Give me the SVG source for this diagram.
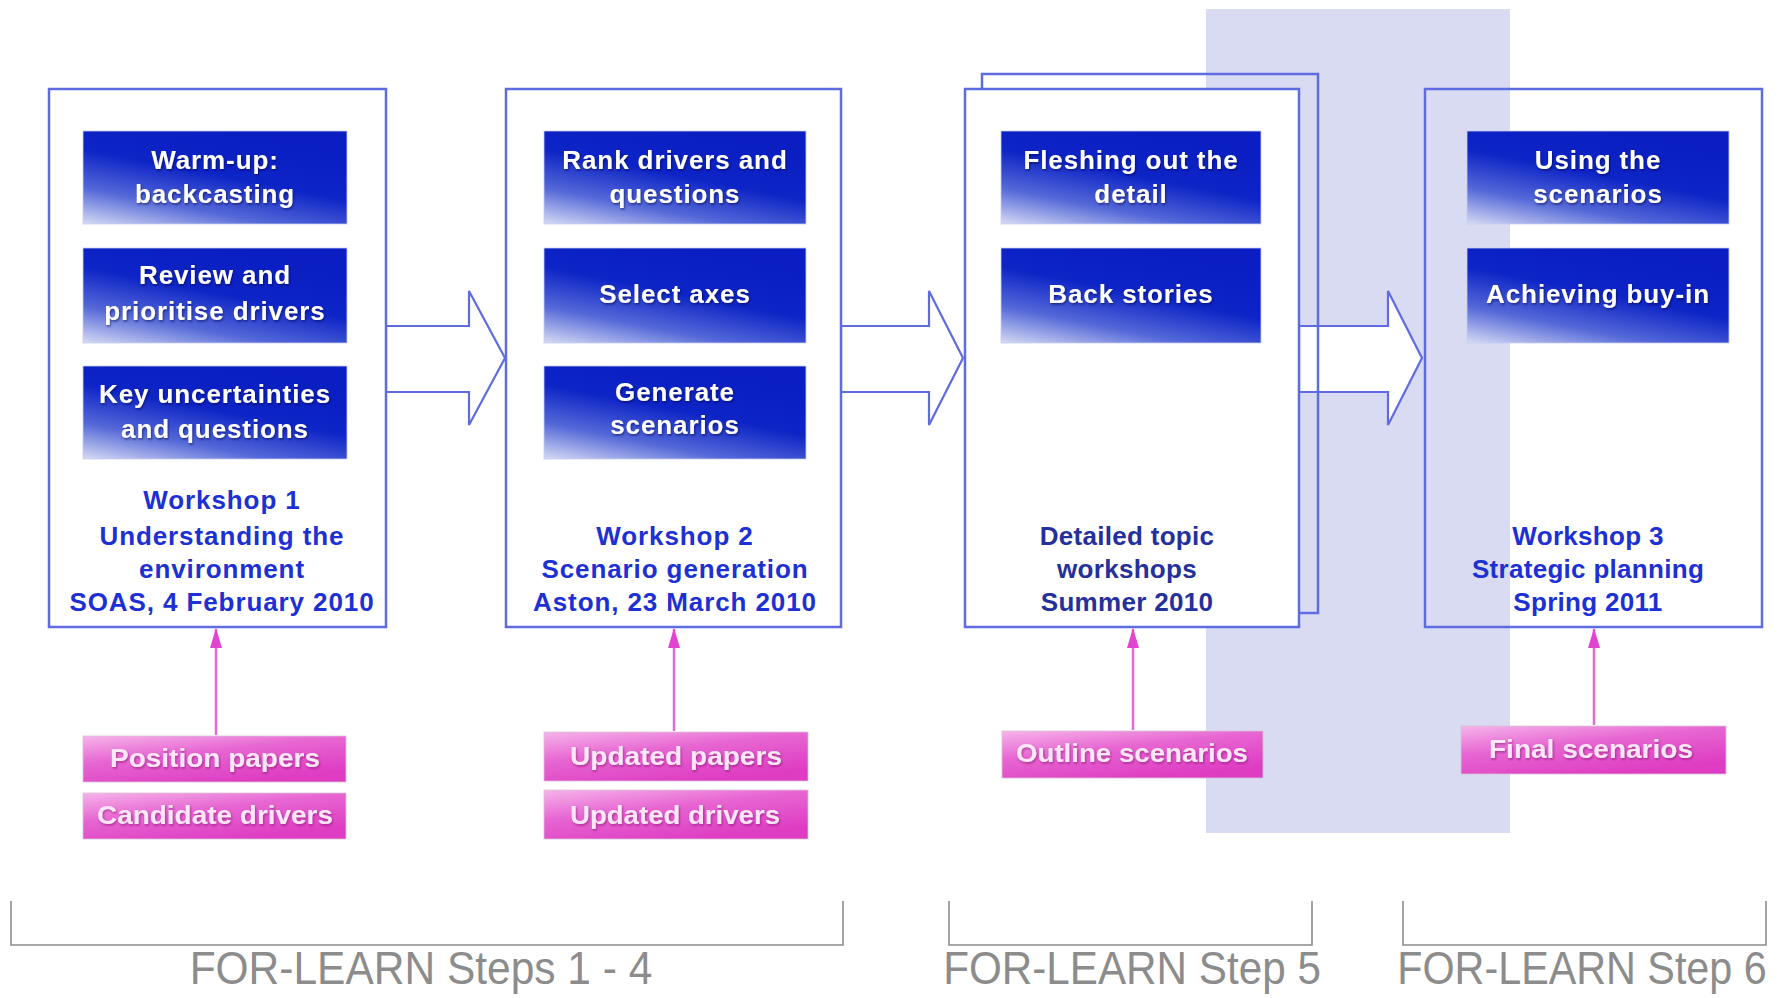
<svg xmlns="http://www.w3.org/2000/svg" width="1791" height="998" viewBox="0 0 1791 998">
<defs>
<linearGradient id="gBlue" x1="0" y1="1" x2="0.55" y2="0">
<stop offset="0" stop-color="#d6dbf4"/>
<stop offset="0.3" stop-color="#5468d8"/>
<stop offset="0.62" stop-color="#0d24c6"/>
<stop offset="1" stop-color="#0a1ec2"/>
</linearGradient>
<linearGradient id="gPink" x1="0" y1="0" x2="0.6" y2="1">
<stop offset="0" stop-color="#f6b4ea"/>
<stop offset="0.45" stop-color="#e766d2"/>
<stop offset="1" stop-color="#de3cc2"/>
</linearGradient>
<filter id="sh" x="-5%" y="-20%" width="110%" height="140%">
<feDropShadow dx="1" dy="1.5" stdDeviation="0.8" flood-color="#000040" flood-opacity="0.55"/>
</filter>
<filter id="shp" x="-5%" y="-20%" width="110%" height="140%">
<feDropShadow dx="1" dy="1.5" stdDeviation="0.8" flood-color="#80106a" flood-opacity="0.6"/>
</filter>
<marker id="ah" viewBox="0 0 20 12" refX="19" refY="6" markerWidth="20" markerHeight="12" markerUnits="userSpaceOnUse" orient="auto">
<path d="M0,0 L20,6 L0,12 Z" fill="#e044d0"/>
</marker>
</defs>
<style>
.frame{fill:#ffffff;stroke:#5f6be0;stroke-width:2.5}
.frameN{fill:none;stroke:#5f6be0;stroke-width:2.5}
.blue{fill:url(#gBlue);stroke:#c8cdf0;stroke-width:0.8}
.pink{fill:url(#gPink);stroke:#d9c0d6;stroke-width:0.8}
.bt{font-family:"Liberation Sans",Arial,sans-serif;font-weight:bold;font-size:26px;fill:#ffffff;text-anchor:middle;letter-spacing:0.9px;filter:url(#sh)}
.wt{font-family:"Liberation Sans",Arial,sans-serif;font-weight:bold;font-size:26px;fill:#1c30d4;text-anchor:middle;letter-spacing:0.9px}
.wt3{font-family:"Liberation Sans",Arial,sans-serif;font-weight:bold;font-size:26px;fill:#24309c;text-anchor:middle;letter-spacing:0.3px}
.pt{font-family:"Liberation Sans",Arial,sans-serif;font-weight:bold;font-size:25px;fill:#fde6f8;text-anchor:middle;filter:url(#shp)}
.arr{fill:#ffffff;stroke:#5f6be0;stroke-width:2.2;stroke-linejoin:miter}
.pl{stroke:#e46ad6;stroke-width:2.5;fill:none}
.br{fill:none;stroke:#8c8c8c;stroke-width:1.6}
.st{font-family:"Liberation Sans",Arial,sans-serif;font-size:46px;fill:#8c8c8c;text-anchor:middle}
</style>
<rect id="band" x="1206" y="9" width="304" height="824" fill="#d9dbf2"/>

<g id="connectors">
<polygon class="arr" points="386,326 469,326 469,291 505,358 469,425 469,392 386,392"/>
<polygon class="arr" points="841,326 929,326 929,291 963,358 929,425 929,392 841,392"/>
<polygon class="arr" points="1299,326 1388,326 1388,291 1422,358 1388,425 1388,392 1299,392"/>
<line class="pl" x1="216" y1="735" x2="216" y2="629" marker-end="url(#ah)"/>
<line class="pl" x1="674" y1="731" x2="674" y2="629" marker-end="url(#ah)"/>
<line class="pl" x1="1133" y1="730" x2="1133" y2="629" marker-end="url(#ah)"/>
<line class="pl" x1="1594" y1="725" x2="1594" y2="629" marker-end="url(#ah)"/>
</g>

<g id="workshop1">
<rect class="frame" x="49" y="89" width="337" height="538"/>
<rect class="blue" x="83" y="131" width="264" height="93"/>
<text class="bt" x="215" y="169">Warm-up:</text>
<text class="bt" x="215" y="203">backcasting</text>
<rect class="blue" x="83" y="248" width="264" height="95"/>
<text class="bt" x="215" y="284">Review and</text>
<text class="bt" x="215" y="320">prioritise drivers</text>
<rect class="blue" x="83" y="366" width="264" height="93"/>
<text class="bt" x="215" y="403">Key uncertainties</text>
<text class="bt" x="215" y="438">and questions</text>
<text class="wt" x="222" y="509">Workshop 1</text>
<text class="wt" x="222" y="545">Understanding the</text>
<text class="wt" x="222" y="578">environment</text>
<text class="wt" x="222" y="611">SOAS, 4 February 2010</text>
</g>

<g id="workshop2">
<rect class="frame" x="506" y="89" width="335" height="538"/>
<rect class="blue" x="544" y="131" width="262" height="93"/>
<text class="bt" x="675" y="169">Rank drivers and</text>
<text class="bt" x="675" y="203">questions</text>
<rect class="blue" x="544" y="248" width="262" height="95"/>
<text class="bt" x="675" y="303">Select axes</text>
<rect class="blue" x="544" y="366" width="262" height="93"/>
<text class="bt" x="675" y="401">Generate</text>
<text class="bt" x="675" y="434">scenarios</text>
<text class="wt" x="675" y="545">Workshop 2</text>
<text class="wt" x="675" y="578">Scenario generation</text>
<text class="wt" x="675" y="611">Aston, 23 March 2010</text>
</g>

<g id="topic-workshops">
<rect class="frameN" x="982" y="74" width="336" height="539"/>
<rect class="frame" x="965" y="89" width="334" height="538"/>
<rect class="blue" x="1001" y="131" width="260" height="93"/>
<text class="bt" x="1131" y="169">Fleshing out the</text>
<text class="bt" x="1131" y="203">detail</text>
<rect class="blue" x="1001" y="248" width="260" height="95"/>
<text class="bt" x="1131" y="303">Back stories</text>
<text class="wt3" x="1127" y="545">Detailed topic</text>
<text class="wt3" x="1127" y="578">workshops</text>
<text class="wt3" x="1127" y="611">Summer 2010</text>
</g>

<g id="workshop3">
<rect class="frameN" x="1425" y="89" width="337" height="538"/>
<rect class="blue" x="1467" y="131" width="262" height="93"/>
<text class="bt" x="1598" y="169">Using the</text>
<text class="bt" x="1598" y="203">scenarios</text>
<rect class="blue" x="1467" y="248" width="262" height="95"/>
<text class="bt" x="1598" y="303">Achieving buy-in</text>
<text class="wt" x="1588" y="545" style="letter-spacing:0.3px">Workshop 3</text>
<text class="wt" x="1588" y="578" style="letter-spacing:0.3px">Strategic planning</text>
<text class="wt" x="1588" y="611" style="letter-spacing:0.3px">Spring 2011</text>
</g>

<g id="inputs1">
<rect class="pink" x="83" y="736" width="263" height="46"/>
<text class="pt" x="215" y="767" textLength="210" lengthAdjust="spacingAndGlyphs">Position papers</text>
<rect class="pink" x="83" y="793" width="263" height="46"/>
<text class="pt" x="215" y="824" textLength="236" lengthAdjust="spacingAndGlyphs">Candidate drivers</text>
</g>
<g id="inputs2">
<rect class="pink" x="544" y="732" width="264" height="49"/>
<text class="pt" x="676" y="765" textLength="212" lengthAdjust="spacingAndGlyphs">Updated papers</text>
<rect class="pink" x="544" y="790" width="264" height="49"/>
<text class="pt" x="675" y="824" textLength="210" lengthAdjust="spacingAndGlyphs">Updated drivers</text>
</g>
<g id="inputs3">
<rect class="pink" x="1002" y="731" width="261" height="47"/>
<text class="pt" x="1132" y="762" textLength="232" lengthAdjust="spacingAndGlyphs">Outline scenarios</text>
</g>
<g id="inputs4">
<rect class="pink" x="1461" y="726" width="265" height="48"/>
<text class="pt" x="1591" y="758" textLength="204" lengthAdjust="spacingAndGlyphs">Final scenarios</text>
</g>

<g id="steps">
<polyline class="br" points="11,901 11,945 843,945 843,901"/>
<polyline class="br" points="949,901 949,945 1312,945 1312,901"/>
<polyline class="br" points="1403,901 1403,945 1766,945 1766,901"/>
<text class="st" transform="translate(421,984) scale(0.924,1)">FOR-LEARN Steps 1 - 4</text>
<text class="st" transform="translate(1132,984) scale(0.918,1)">FOR-LEARN Step 5</text>
<text class="st" transform="translate(1582,984) scale(0.898,1)">FOR-LEARN Step 6</text>
</g>
</svg>
